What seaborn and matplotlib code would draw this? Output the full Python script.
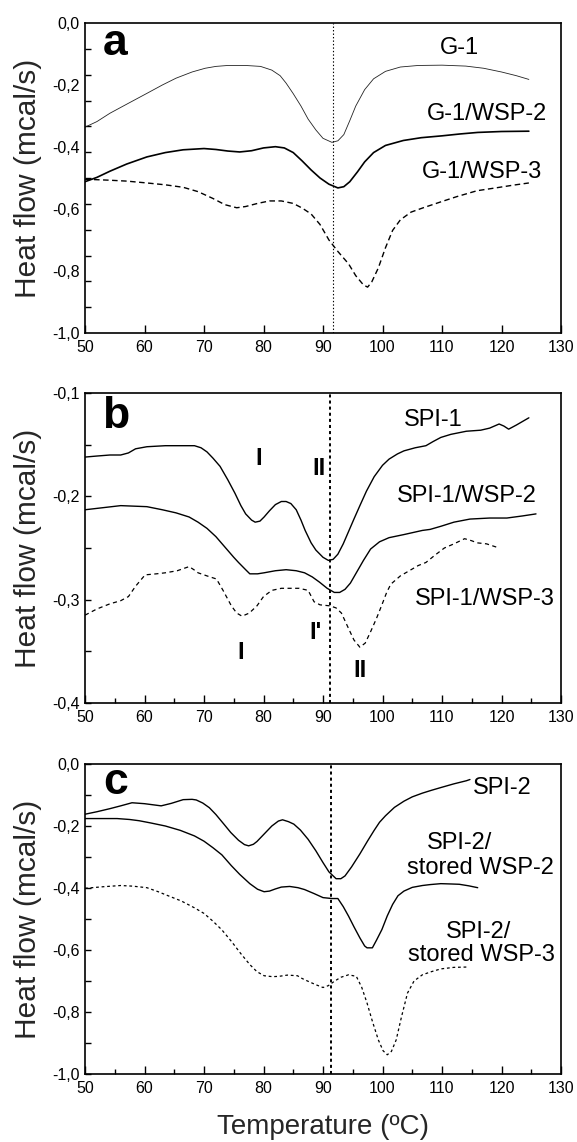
import matplotlib
matplotlib.use("Agg")
import matplotlib.pyplot as plt
from matplotlib import font_manager
from matplotlib.ticker import FixedLocator, MultipleLocator, FuncFormatter, NullLocator
import seaborn as sns
import numpy as np

# ---------------- data ----------------
# Panel a
g1_T = [50, 52, 54.2, 57, 60.4, 63, 65.3, 68, 70.2, 72, 74, 77, 79.5, 81.4, 82.8, 83.8, 85, 86.3, 87.5, 88.8,
        90, 91.5, 92.5, 93.5, 94.5, 95.5, 97, 98.5, 100.5, 103, 106, 110, 114, 117, 120, 122.5, 124.6]
g1_hf = [-0.336, -0.318, -0.291, -0.262, -0.227, -0.200, -0.178, -0.158, -0.146, -0.140, -0.137, -0.137, -0.140,
         -0.152, -0.170, -0.194, -0.228, -0.268, -0.310, -0.345, -0.372, -0.385, -0.380, -0.360, -0.315, -0.268,
         -0.215, -0.180, -0.156, -0.142, -0.137, -0.136, -0.139, -0.146, -0.158, -0.170, -0.182]

g1wsp2_T = [50, 52, 54.2, 57, 60.4, 63.5, 66.5, 70, 72, 74, 76, 78, 80, 82, 83.5, 85, 86.5, 88, 89.5, 91, 92.5,
            93.5, 94.5, 95.8, 97, 98.5, 100.5, 103.5, 106.5, 110, 113, 116, 120, 124.6]
g1wsp2_hf = [-0.512, -0.498, -0.478, -0.455, -0.432, -0.418, -0.409, -0.405, -0.408, -0.413, -0.416, -0.412,
             -0.403, -0.399, -0.403, -0.418, -0.445, -0.474, -0.500, -0.520, -0.532, -0.528, -0.512, -0.480,
             -0.448, -0.418, -0.395, -0.379, -0.370, -0.364, -0.358, -0.353, -0.350, -0.349]

g1wsp3_T = [50, 54, 57, 60.4, 63.5, 66.5, 69, 71.5, 73.5, 75.5, 77, 79, 81, 83, 85, 86.5, 88, 89.5, 91, 92.5,
            94.3, 95.5, 96.8, 97.5, 98.2, 99.3, 100.5, 101.7, 103, 104.8, 107, 109.8, 112.5, 115.9, 119, 122, 124.6]
g1wsp3_hf = [-0.504, -0.507, -0.510, -0.516, -0.522, -0.530, -0.544, -0.566, -0.586, -0.596, -0.592, -0.582,
             -0.574, -0.574, -0.582, -0.597, -0.616, -0.650, -0.700, -0.737, -0.777, -0.815, -0.845, -0.852,
             -0.835, -0.790, -0.725, -0.669, -0.635, -0.610, -0.595, -0.577, -0.560, -0.541, -0.532, -0.523, -0.516]

# Panel b
spi1_T = [50, 52, 54.2, 56, 57.3, 58.5, 60.4, 63.5, 66, 68.4, 69.5, 70.5, 71.5, 72.7, 74, 75.2, 76.2, 77, 78,
          78.6, 79.4, 80.1, 81, 82, 83, 83.8, 84.6, 85.5, 86.3, 87, 88, 88.8, 90, 90.9, 91.7, 92.5, 93.4, 94.3,
          95.2, 96.2, 97.3, 98.6, 100, 101.1, 102.5, 103.6, 105.5, 107.3, 108.5, 109.8, 111.5, 114.1, 116.5,
          118, 119.6, 120.4, 121.2, 122.5, 124.6]
spi1_hf = [-0.162, -0.161, -0.160, -0.160, -0.158, -0.154, -0.152, -0.151, -0.151, -0.151, -0.153, -0.157,
           -0.163, -0.171, -0.184, -0.197, -0.209, -0.217, -0.223, -0.225, -0.224, -0.220, -0.214, -0.208,
           -0.205, -0.205, -0.207, -0.213, -0.223, -0.233, -0.245, -0.252, -0.259, -0.262, -0.261, -0.256,
           -0.246, -0.234, -0.222, -0.209, -0.195, -0.181, -0.170, -0.164, -0.159, -0.156, -0.153, -0.151,
           -0.147, -0.143, -0.140, -0.137, -0.136, -0.134, -0.130, -0.132, -0.135, -0.131, -0.124]

spi1wsp2_T = [50, 53, 56, 60.4, 63, 65.3, 67.5, 69, 70.5, 72, 73.5, 75, 75.8, 77, 77.7, 79, 80.1, 82, 83.8,
              85.5, 86.9, 88.2, 89.4, 90.7, 91.9, 92.8, 93.7, 94.6, 95.6, 96.8, 98, 99.5, 101.1, 103.6, 106.7,
              108, 109.8, 112, 114.7, 118, 120.9, 123.5, 125.8]
spi1wsp2_hf = [-0.213, -0.211, -0.209, -0.210, -0.213, -0.216, -0.220, -0.225, -0.231, -0.239, -0.249, -0.259,
               -0.264, -0.271, -0.275, -0.275, -0.274, -0.272, -0.271, -0.272, -0.274, -0.278, -0.283, -0.289,
               -0.293, -0.293, -0.290, -0.284, -0.274, -0.262, -0.251, -0.244, -0.240, -0.237, -0.233, -0.232,
               -0.229, -0.225, -0.222, -0.221, -0.221, -0.219, -0.217]

spi1wsp3_T = [50, 52, 54.2, 56, 57.3, 58.5, 60.1, 62, 63.5, 65.5, 67.5, 68.3, 69, 70.5, 72.1, 73.2, 74.6, 75.5,
              76.4, 77.6, 78.9, 80, 81.4, 83, 84.4, 86, 87.5, 88.5, 89.5, 91.2, 92.2, 93.1, 94.3, 95.2, 96.2,
              97.1, 98, 99, 99.9, 100.7, 101.4, 103, 104.8, 106, 107.3, 108.8, 110.4, 112, 113.8, 115, 115.9,
              117.5, 119.6]
spi1wsp3_hf = [-0.315, -0.309, -0.304, -0.301, -0.297, -0.287, -0.276, -0.275, -0.274, -0.272, -0.268, -0.271,
               -0.274, -0.277, -0.280, -0.291, -0.306, -0.313, -0.316, -0.313, -0.306, -0.297, -0.291, -0.289,
               -0.289, -0.289, -0.291, -0.302, -0.305, -0.306, -0.308, -0.313, -0.328, -0.339, -0.346, -0.342,
               -0.331, -0.318, -0.305, -0.293, -0.285, -0.277, -0.271, -0.267, -0.264, -0.257, -0.250, -0.246,
               -0.241, -0.243, -0.245, -0.246, -0.250]

# Panel c
spi2_T = [50, 52, 54.2, 56, 57.9, 60, 62.8, 64.5, 66.5, 68, 68.7, 69.8, 70.9, 72, 73.3, 74.5, 75.8, 76.8, 77.5,
          78.3, 78.9, 80, 81.4, 82.5, 83.2, 84.2, 85.1, 86.2, 87.5, 88.8, 90, 91, 92.2, 93, 93.7, 94.8, 96.2,
          97.5, 98.6, 99.5, 100.5, 102, 103.6, 105, 106.7, 108.2, 109.8, 112, 114.1, 114.7]
spi2_hf = [-0.162, -0.154, -0.144, -0.135, -0.125, -0.128, -0.135, -0.127, -0.115, -0.114, -0.116, -0.126,
           -0.141, -0.163, -0.193, -0.221, -0.246, -0.260, -0.264, -0.259, -0.250, -0.228, -0.200, -0.184,
           -0.180, -0.186, -0.194, -0.213, -0.243, -0.280, -0.318, -0.348, -0.370, -0.370, -0.361, -0.332,
           -0.290, -0.248, -0.214, -0.188, -0.167, -0.140, -0.120, -0.106, -0.094, -0.085, -0.076, -0.064,
           -0.054, -0.050]

spi2wsp2_T = [50, 55.4, 57.5, 59.1, 61, 63.5, 66, 68.4, 70, 71.5, 73, 74.6, 76, 77.7, 79, 80.1, 81, 82, 83,
              84.4, 85.8, 86.9, 88.5, 90, 91.5, 92.5, 93.4, 94.3, 95.2, 96.2, 97, 97.4, 98.3, 99, 99.9, 100.8,
              101.7, 102.6, 103.6, 105, 106.7, 108, 109.8, 111.5, 112.9, 114.5, 116]
spi2wsp2_hf = [-0.176, -0.176, -0.179, -0.183, -0.190, -0.200, -0.214, -0.232, -0.249, -0.270, -0.293, -0.328,
               -0.356, -0.386, -0.404, -0.412, -0.410, -0.403, -0.397, -0.395, -0.399, -0.405, -0.418, -0.431,
               -0.434, -0.434, -0.460, -0.491, -0.525, -0.561, -0.587, -0.593, -0.593, -0.568, -0.534, -0.490,
               -0.453, -0.425, -0.410, -0.398, -0.392, -0.389, -0.386, -0.387, -0.388, -0.393, -0.399]

spi2wsp3_T = [50, 53, 56, 58, 60.4, 62.3, 64.1, 66.2, 68.4, 70, 71.5, 73, 74.6, 76.2, 77.7, 78.9, 80.1, 81.5,
              82.6, 84, 85.7, 86.5, 87.5, 88.8, 90, 90.9, 91.9, 93, 94.3, 95.6, 96.5, 97.4, 98.3, 99.3, 100.1,
              100.8, 101.5, 102.3, 103.2, 104.2, 105.3, 106.7, 108.2, 109.8, 112, 114.1]
spi2wsp3_hf = [-0.401, -0.396, -0.392, -0.394, -0.399, -0.412, -0.426, -0.442, -0.464, -0.482, -0.507, -0.535,
               -0.572, -0.612, -0.647, -0.670, -0.683, -0.686, -0.685, -0.681, -0.683, -0.692, -0.701, -0.712,
               -0.721, -0.715, -0.701, -0.688, -0.680, -0.685, -0.720, -0.771, -0.830, -0.890, -0.925, -0.938,
               -0.927, -0.890, -0.815, -0.739, -0.700, -0.680, -0.670, -0.661, -0.656, -0.655]

ref_temps = [91.7, 91.1, 91.4]          # vertical reference lines (a, b, c)
panel_letters = ["a", "b", "c"]
y_label = "Heat flow (mcal/s)"
x_label = "Temperature (\u00baC)"

# ---------------- style ----------------
sns.set_style("ticks")
plt.rcParams["font.family"] = ["Liberation Sans", "DejaVu Sans"]
plt.rcParams["lines.scale_dashes"] = False
plt.rcParams["axes.linewidth"] = 1.2

names = {f.name for f in font_manager.fontManager.ttflist}
if "Liberation Sans Narrow" in names:
    tick_family, tick_size = "Liberation Sans Narrow", 12.5
else:
    tick_family, tick_size = "Liberation Sans", 11.5

def comma_fmt(v, pos=None):
    if abs(v) < 1e-9:
        return "0,0"
    return f"{v:.1f}".replace(".", ",")

fig = plt.figure(figsize=(5.77, 11.42), dpi=100)
L, W, H = 85 / 577, 476 / 577, 310 / 1142
bottoms = [(1142 - 333) / 1142, (1142 - 703) / 1142, (1142 - 1074) / 1142]
axes = [fig.add_axes([L, b, W, H]) for b in bottoms]

def draw(ax, T, hf, lw, dashes=None, color="k"):
    sns.lineplot(x=T, y=hf, ax=ax, color=color, lw=lw, sort=False, estimator=None)
    line = ax.lines[-1]
    if dashes is not None:
        line.set_dashes(dashes)

def style_axis(ax, ylim, minor_x, ymaj, ymin, ymaj_len=4):
    ax.set_xlim(50, 130)
    ax.set_ylim(*ylim)
    for s in ax.spines.values():
        s.set_visible(True)
        s.set_color("k")
        s.set_linewidth(1.2)
    ax.xaxis.set_major_locator(MultipleLocator(10))
    if minor_x:
        ax.xaxis.set_minor_locator(MultipleLocator(5))
    else:
        ax.xaxis.set_minor_locator(NullLocator())
    ax.yaxis.set_major_locator(ymaj)
    ax.yaxis.set_minor_locator(ymin)
    ax.yaxis.set_major_formatter(FuncFormatter(comma_fmt))
    ax.tick_params(which="both", direction="in", top=False, right=False, colors="k", width=1.0,
                   labelsize=tick_size, labelfontfamily=tick_family)
    ax.tick_params(axis="x", which="major", length=6, pad=5)
    ax.tick_params(axis="x", which="minor", length=3.5)
    ax.tick_params(axis="y", which="major", length=ymaj_len, pad=4)
    ax.tick_params(axis="y", which="minor", length=4)
    ax.set_ylabel(y_label, fontsize=21.5)
    ax.yaxis.set_label_coords(-0.09, 0.5)
    ax.set_xlabel("")

lab_kw = dict(fontsize=17, ha="center", va="center", color="k")
roman_kw = dict(fontsize=17, ha="center", va="center", color="k", fontweight="bold")
letter_kw = dict(fontsize=32, ha="left", va="baseline", fontweight="bold", color="k")

# ----- panel a -----
ax = axes[0]
draw(ax, g1_T, g1_hf, 0.6, color="#222222")
draw(ax, g1wsp2_T, g1wsp2_hf, 1.2)
draw(ax, g1wsp3_T, g1wsp3_hf, 1.0, dashes=(4, 2.5))
ax.axvline(ref_temps[0], color="k", lw=0.8, dashes=(1, 1.5))
style_axis(ax, (-1.0, 0.0), False,
           FixedLocator(np.round(np.arange(0, -1.01, -0.2), 1)),
           FixedLocator(np.linspace(0, -1, 13)), ymaj_len=0)
ax.text(52.9, -0.104, panel_letters[0], **letter_kw)
ax.text(113.0, -0.082, "G-1", **lab_kw)
ax.text(117.6, -0.294, "G-1/WSP-2", **lab_kw)
ax.text(116.7, -0.482, "G-1/WSP-3", **lab_kw)

# ----- panel b -----
ax = axes[1]
draw(ax, spi1_T, spi1_hf, 1.0)
draw(ax, spi1wsp2_T, spi1wsp2_hf, 1.0)
draw(ax, spi1wsp3_T, spi1wsp3_hf, 0.9, dashes=(3, 2.5))
ax.axvline(ref_temps[1], color="k", lw=1.4, dashes=(2.2, 2.2))
style_axis(ax, (-0.4, -0.1), True, MultipleLocator(0.1), MultipleLocator(0.05))
ax.text(52.8, -0.134, panel_letters[1], **letter_kw)
ax.text(108.6, -0.126, "SPI-1", **lab_kw)
ax.text(114.1, -0.200, "SPI-1/WSP-2", **lab_kw)
ax.text(117.2, -0.299, "SPI-1/WSP-3", **lab_kw)
ax.text(79.2, -0.163, "I", **roman_kw)
ax.text(89.4, -0.173, "II", **roman_kw)
ax.text(76.1, -0.351, "I", **roman_kw)
ax.text(88.7, -0.332, "I'", **roman_kw)
ax.text(96.2, -0.369, "II", **roman_kw)

# ----- panel c -----
ax = axes[2]
draw(ax, spi2_T, spi2_hf, 1.0)
draw(ax, spi2wsp2_T, spi2wsp2_hf, 1.0)
draw(ax, spi2wsp3_T, spi2wsp3_hf, 0.9, dashes=(2, 2))
ax.axvline(ref_temps[2], color="k", lw=1.4, dashes=(2.2, 2.2))
style_axis(ax, (-1.0, 0.0), True, MultipleLocator(0.2), MultipleLocator(0.1))
ax.text(53.0, -0.097, panel_letters[2], **letter_kw)
ax.text(120.1, -0.078, "SPI-2", **lab_kw)
ax.text(113.0, -0.256, "SPI-2/", **lab_kw)
ax.text(116.4, -0.337, "stored WSP-2", **lab_kw)
ax.text(116.1, -0.542, "SPI-2/", **lab_kw)
ax.text(116.7, -0.615, "stored WSP-3", **lab_kw)
ax.set_xlabel(x_label, fontsize=20)
ax.xaxis.set_label_coords(0.5, -0.13)

fig.savefig("out.png", dpi=100)
